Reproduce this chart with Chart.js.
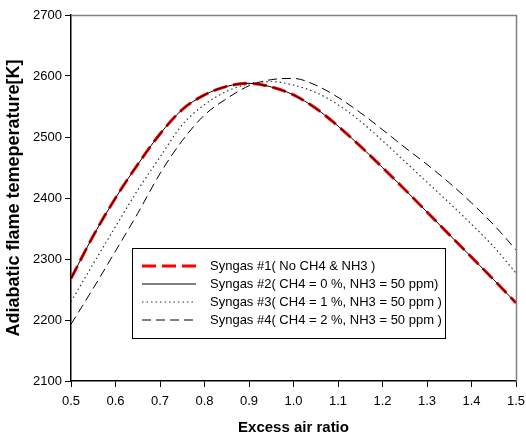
<!DOCTYPE html>
<html>
<head>
<meta charset="utf-8">
<script src="https://cdn.jsdelivr.net/npm/chart.js@4"></script>
<style>
  html, body { margin: 0; padding: 0; background: #fff; }
  #wrap { width: 526px; height: 441px; }
</style>
</head>
<body>
<div id="wrap"><canvas id="myChart" width="526" height="441"></canvas></div>
<script>
// excess air ratio
const ratio = [0.50, 0.55, 0.60, 0.65, 0.70, 0.75, 0.80, 0.85, 0.90, 0.95, 1.00,
               1.05, 1.10, 1.15, 1.20, 1.25, 1.30, 1.35, 1.40, 1.45, 1.50];

const syngas1 = [2268, 2338, 2400, 2455, 2505, 2545, 2569, 2583, 2588, 2582, 2569,
                 2547, 2518, 2485, 2450, 2414, 2377, 2340, 2303, 2266, 2228];
const syngas2 = [2268, 2338, 2400, 2455, 2505, 2545, 2569, 2583, 2588, 2582, 2569,
                 2547, 2518, 2485, 2450, 2414, 2377, 2340, 2303, 2266, 2228];
const syngas3 = [2230, 2292, 2353, 2413, 2467, 2520, 2553, 2575, 2587, 2591, 2585,
                 2573, 2553, 2526, 2494, 2460, 2426, 2392, 2357, 2320, 2277];
const syngas4 = [2193, 2252, 2313, 2375, 2440, 2494, 2536, 2563, 2584, 2594, 2596,
                 2585, 2565, 2540, 2512, 2483, 2455, 2425, 2392, 2356, 2315];

const labels = [
    'Syngas #1( No CH4 & NH3 )',
    'Syngas #2( CH4 = 0 %, NH3 = 50 ppm)',
    'Syngas #3( CH4 = 1 %, NH3 = 50 ppm )',
    'Syngas #4( CH4 = 2 %, NH3 = 50 ppm )'
];

const FONT = '"Liberation Sans", Arial, sans-serif';

function pts(ys) {
    return ratio.map((x, i) => ({ x: x, y: ys[i] }));
}

// frame on top/right + legend box inside the plot
const framePlugin = {
    id: 'frame',
    afterDraw(chart) {
        const c = chart.ctx;
        const a = chart.chartArea;
        c.save();
        c.strokeStyle = '#808080';
        c.lineWidth = 1.5;
        c.beginPath();
        c.moveTo(a.left, a.top + 0.5);
        c.lineTo(a.right + 0.5, a.top + 0.5);
        c.lineTo(a.right + 0.5, a.bottom);
        c.stroke();

        // legend
        const bx = 132, by = 248, bw = 313, bh = 90;
        c.fillStyle = '#fff';
        c.fillRect(bx, by, bw, bh);
        c.strokeStyle = '#000';
        c.lineWidth = 1;
        c.strokeRect(bx + 0.5, by + 0.5, bw, bh);
        c.font = '13px ' + FONT;
        c.textBaseline = 'middle';
        c.fillStyle = '#000';
        chart.data.datasets.forEach((ds, i) => {
            const y = by + 18 + i * 18;
            c.save();
            c.strokeStyle = ds.borderColor;
            c.lineWidth = ds.borderWidth;
            c.setLineDash(ds.borderDash || []);
            c.beginPath();
            c.moveTo(142, y);
            c.lineTo(196, y);
            c.stroke();
            c.restore();
            c.fillText(ds.label, 210, y);
        });
        c.restore();
    }
};

const ctx = document.getElementById('myChart').getContext('2d');

const myChart = new Chart(ctx, {
    type: 'line',
    data: {
        datasets: [
            {
                label: labels[0],
                data: pts(syngas1),
                borderColor: '#ff0000',
                borderWidth: 3,
                borderDash: [14, 6],
                order: 2
            },
            {
                label: labels[1],
                data: pts(syngas2),
                borderColor: '#000000',
                borderWidth: 1,
                order: 1
            },
            {
                label: labels[2],
                data: pts(syngas3),
                borderColor: '#333333',
                borderWidth: 1.2,
                borderDash: [1.5, 3],
                order: 1
            },
            {
                label: labels[3],
                data: pts(syngas4),
                borderColor: '#000000',
                borderWidth: 1,
                borderDash: [9, 5],
                order: 1
            }
        ]
    },
    options: {
        responsive: false,
        animation: false,
        layout: { padding: { top: 15, right: 10, left: 0, bottom: 0 } },
        elements: {
            point: { radius: 0 },
            line: { cubicInterpolationMode: 'monotone', fill: false }
        },
        plugins: {
            legend: { display: false },
            tooltip: { enabled: false }
        },
        scales: {
            x: {
                type: 'linear',
                min: 0.5,
                max: 1.5,
                afterFit: s => { s.height = 60; s.paddingLeft = 0; s.paddingRight = 0; },
                border: { color: '#000', width: 1.5 },
                grid: { drawOnChartArea: false, drawTicks: true, tickLength: 6, color: '#000' },
                ticks: {
                    stepSize: 0.1,
                    color: '#000',
                    padding: 7,
                    font: { family: FONT, size: 13 },
                    callback: v => v.toFixed(1)
                },
                title: {
                    display: true,
                    text: 'Excess air ratio',
                    color: '#000',
                    padding: { top: 15 },
                    font: { family: FONT, size: 15, weight: 'bold' }
                }
            },
            y: {
                min: 2100,
                max: 2700,
                afterFit: s => { s.width = 71; s.paddingTop = 0; s.paddingBottom = 0; },
                border: { color: '#000', width: 1.5 },
                grid: { drawOnChartArea: false, drawTicks: true, tickLength: 6, color: '#000' },
                ticks: {
                    stepSize: 100,
                    color: '#000',
                    padding: 3,
                    font: { family: FONT, size: 13 },
                    callback: v => String(v)
                },
                title: {
                    display: true,
                    text: 'Adiabatic flame temeperature[K]',
                    color: '#000',
                    padding: { bottom: 0, top: 3 },
                    font: { family: FONT, size: 18, weight: 'bold' }
                }
            }
        }
    },
    plugins: [framePlugin]
});
</script>
</body>
</html>
